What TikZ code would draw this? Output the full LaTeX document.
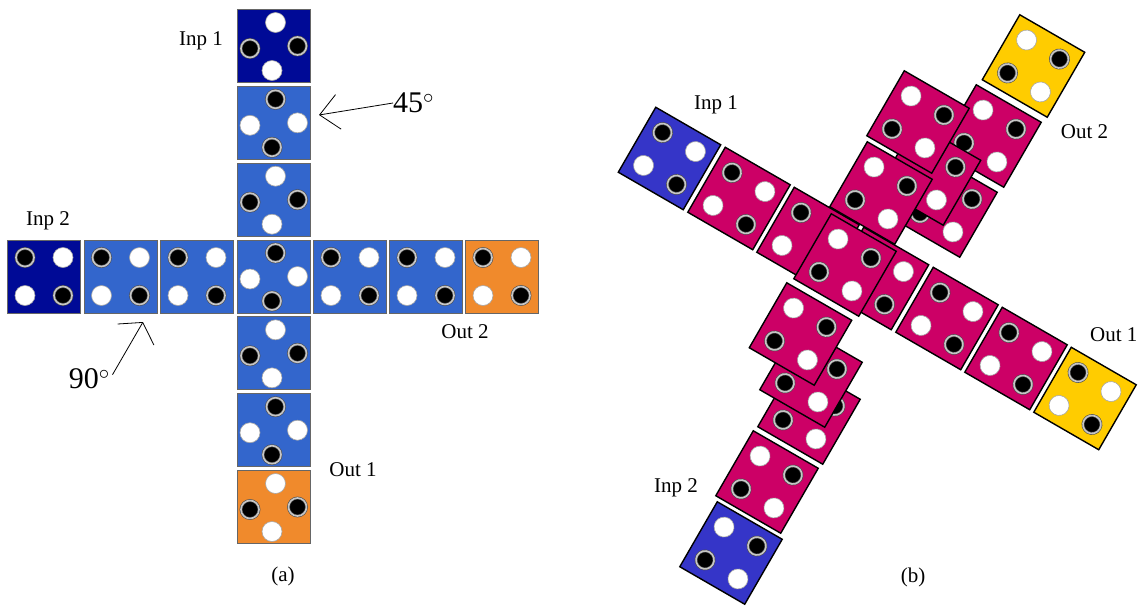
\documentclass[tikz,border=0pt]{standalone}
\usepackage{fontspec}
\setmainfont{Liberation Serif}
\usetikzlibrary{arrows.meta}
\definecolor{inpnavy}{HTML}{000A96}
\definecolor{cellblue}{HTML}{3366CC}
\definecolor{outorange}{HTML}{F08A2C}
\definecolor{inpviolet}{HTML}{3535C8}
\definecolor{cellmagenta}{HTML}{CC0066}
\definecolor{outyellow}{HTML}{FFCC00}
\tikzset{
  % flat cell of panel (a)
  cella/.style={rectangle, fill=#1, draw=gray!80!black, line width=1pt,
                minimum size=73pt, inner sep=0pt},
  % tilted cell of panel (b)
  cellb/.style={rectangle, fill=#1, draw=black, line width=1.4pt,
                minimum size=75pt, inner sep=0pt},
  % black dot with grey ring
  bdot/.style={circle, fill=black, draw=black!70, double=gray!45,
               double distance=1.6pt, line width=0.6pt,
               minimum size=18pt, inner sep=0pt},
  % plain white dot
  wdot/.style={circle, fill=white, draw=gray!70, line width=0.6pt,
               minimum size=20pt, inner sep=0pt},
  lbl/.style={font=\fontsize{21}{24}\selectfont, inner sep=0pt},
  deg/.style={font=\fontsize{30}{34}\selectfont, inner sep=0pt},
}
% cell with dots on a plus: name, centre, fill, top/bottom dot, side dot
\newcommand{\plustile}[5]{%
  \begin{scope}[shift={#2}]
    \node[cella=#3] (#1) at (0,0) {};
    \node[#4] (#1-t) at (2,-23.5) {};
    \node[#4] (#1-b) at (-1.5,24.5) {};
    \node[#5] (#1-l) at (-23.5,2.5) {};
    \node[#5] (#1-r) at (24,0) {};
  \end{scope}}
% cell with dots on a square: name, centre, angle, cell style, diagonal dot, other dot
\newcommand{\quadtile}[6]{%
  \begin{scope}[shift={#2}, rotate=#3, transform shape]
    \node[#4] (#1) at (0,0) {};
    \node[#5] (#1-tl) at (-19,-19) {};
    \node[#6] (#1-tr) at (19,-19) {};
    \node[#6] (#1-bl) at (-19,19) {};
    \node[#5] (#1-br) at (19,19) {};
  \end{scope}}

\begin{document}
\begin{tikzpicture}[x=1pt, y=-1pt]
  \useasboundingbox (0,0) rectangle (1138,606);

  % ---- panel (a) ----
  % vertical arm
  \plustile{ai1}{(273.5,46)}{inpnavy}{wdot}{bdot}
  \plustile{av1}{(273.5,122.8)}{cellblue}{bdot}{wdot}
  \plustile{av2}{(273.5,199.7)}{cellblue}{wdot}{bdot}
  \plustile{ac}{(273.5,276.5)}{cellblue}{bdot}{wdot}
  \plustile{av4}{(273.5,353.3)}{cellblue}{wdot}{bdot}
  \plustile{av5}{(273.5,430.2)}{cellblue}{bdot}{wdot}
  \plustile{ao1}{(273.5,507)}{outorange}{wdot}{bdot}
  % horizontal arm
  \quadtile{ai2}{(44,276.5)}{0}{cella=inpnavy}{bdot}{wdot}
  \quadtile{ah1}{(120.5,276.5)}{0}{cella=cellblue}{bdot}{wdot}
  \quadtile{ah2}{(197,276.5)}{0}{cella=cellblue}{bdot}{wdot}
  \quadtile{ah4}{(350,276.5)}{0}{cella=cellblue}{bdot}{wdot}
  \quadtile{ah5}{(426,276.5)}{0}{cella=cellblue}{bdot}{wdot}
  \quadtile{ao2}{(502,276.5)}{0}{cella=outorange}{bdot}{wdot}

  \node[lbl] (lai1) at (201,41) {Inp 1};
  \node[lbl] (lai2) at (48,221) {Inp 2};
  \node[lbl] (lao2) at (465,332) {Out 2};
  \node[lbl] (lao1) at (353,470) {Out 1};
  \node[lbl] (capa) at (283,576) {(a)};

  % angle marks
  \node[deg, anchor=west] (d45) at (393,103) {45$^{\circ}$};
  \coordinate (t45) at (319,115);
  \draw[line width=0.8pt, -{Straight Barb[length=19pt, width=35pt]}] (d45.west) -- (t45);
  \node[deg, anchor=east] (d90) at (110,379) {90$^{\circ}$};
  \coordinate (t90) at (143,322);
  \draw[line width=0.8pt, shorten <=5pt, -{Straight Barb[length=14pt, width=42pt]}] (d90.east) -- (t90);

  % ---- panel (b) ----
  % first arm, straight
  \quadtile{bi1}{(669.5,158.5)}{-30}{cellb=inpviolet}{bdot}{wdot}
  \quadtile{bk1}{(739,198.5)}{-30}{cellb=cellmagenta}{bdot}{wdot}
  \quadtile{bk2}{(808,238.5)}{-30}{cellb=cellmagenta}{bdot}{wdot}
  \quadtile{bk3}{(877.5,278.5)}{-30}{cellb=cellmagenta}{bdot}{wdot}
  \quadtile{bk4}{(947,318.5)}{-30}{cellb=cellmagenta}{bdot}{wdot}
  \quadtile{bk5}{(1016,358.5)}{-30}{cellb=cellmagenta}{bdot}{wdot}
  \quadtile{bo1}{(1085,398.5)}{-30}{cellb=outyellow}{bdot}{wdot}
  % second arm, upper right column
  \quadtile{bo2}{(1033.5,66)}{-30}{cellb=outyellow}{wdot}{bdot}
  \quadtile{bm1}{(990,136)}{-30}{cellb=cellmagenta}{wdot}{bdot}
  \quadtile{bm2}{(946,206)}{-30}{cellb=cellmagenta}{wdot}{bdot}
  \quadtile{bm3}{(929.5,174)}{-30}{cellb=cellmagenta}{wdot}{bdot}
  % second arm, lower part and left column
  \quadtile{bi2}{(731,553)}{-30}{cellb=inpviolet}{wdot}{bdot}
  \quadtile{bj1}{(767,482)}{-30}{cellb=cellmagenta}{wdot}{bdot}
  \quadtile{bj2}{(809,413)}{-30}{cellb=cellmagenta}{wdot}{bdot}
  \quadtile{bj3}{(811,376)}{-30}{cellb=cellmagenta}{wdot}{bdot}
  \quadtile{bj4}{(800.5,334)}{-30}{cellb=cellmagenta}{wdot}{bdot}
  \quadtile{bj5}{(845,265)}{-30}{cellb=cellmagenta}{wdot}{bdot}
  \quadtile{bj6}{(881,193)}{-30}{cellb=cellmagenta}{wdot}{bdot}
  \quadtile{bj7}{(918,122)}{-30}{cellb=cellmagenta}{wdot}{bdot}

  \node[lbl] (lbi1) at (716,105) {Inp 1};
  \node[lbl] (lbo2) at (1084.5,131.5) {Out 2};
  \node[lbl, anchor=west] (lbo1) at (1090,335) {Out 1};
  \node[lbl] (lbi2) at (676,488) {Inp 2};
  \node[lbl] (capb) at (913,577) {(b)};
\end{tikzpicture}
\end{document}
